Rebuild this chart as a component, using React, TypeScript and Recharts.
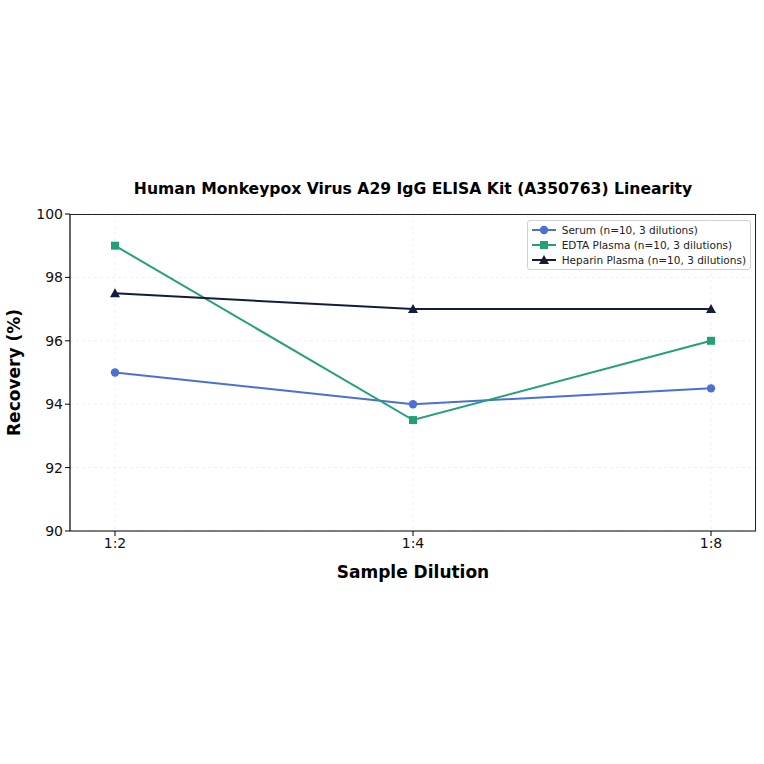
import React from 'react'
import { LineChart, Line, XAxis, YAxis, CartesianGrid } from 'recharts'

const dilutions = ['1:2', '1:4', '1:8']
const serum = [95, 94, 94.5]
const edtaPlasma = [99, 93.5, 96]
const heparinPlasma = [97.5, 97, 97]
const yTicks = [90, 92, 94, 96, 98, 100]

const seriesInfo = [
  { key: 'serum', name: 'Serum (n=10, 3 dilutions)', color: '#4a6fd6', shape: 'circle' },
  { key: 'edta', name: 'EDTA Plasma (n=10, 3 dilutions)', color: '#23a07a', shape: 'square' },
  { key: 'heparin', name: 'Heparin Plasma (n=10, 3 dilutions)', color: '#131d3b', shape: 'triangle' },
]

const data = dilutions.map((d, i) => ({
  dilution: d,
  serum: serum[i],
  edta: edtaPlasma[i],
  heparin: heparinPlasma[i],
}))

const FONT = '"DejaVu Sans", sans-serif'

function Marker({ shape, cx, cy, color }: { shape: string; cx: number; cy: number; color: string }) {
  if (shape === 'square') {
    return <rect x={cx - 4} y={cy - 4} width={8} height={8} fill={color} />
  }
  if (shape === 'triangle') {
    return <polygon points={`${cx},${cy - 5} ${cx + 5},${cy + 4} ${cx - 5},${cy + 4}`} fill={color} />
  }
  return <circle cx={cx} cy={cy} r={4.2} fill={color} />
}

function makeDot(shape: string, color: string) {
  return (props: any) => {
    const { cx, cy, index } = props
    if (cx == null || cy == null) return <g key={index} />
    return <Marker key={index} shape={shape} cx={cx} cy={cy} color={color} />
  }
}

function LegendBox() {
  return (
    <div
      style={{
        position: 'absolute',
        right: 13,
        top: 220,
        background: 'rgba(255,255,255,0.9)',
        border: '1px solid #d0d0d0',
        borderRadius: 3,
        padding: '1px 4px 2px 4px',
        fontFamily: FONT,
        fontSize: 10.5,
        color: '#222',
      }}
    >
      {seriesInfo.map((s) => (
        <div key={s.key} style={{ display: 'flex', alignItems: 'center', height: 15 }}>
          <svg width={24} height={12} style={{ marginRight: 6 }}>
            <line x1={0} y1={6} x2={24} y2={6} stroke={s.color} strokeWidth={2} />
            <Marker shape={s.shape} cx={12} cy={6} color={s.color} />
          </svg>
          <span>{s.name}</span>
        </div>
      ))}
    </div>
  )
}

export default function App() {
  return (
    <div style={{ position: 'absolute', left: 0, top: 0, width: 764, height: 764, background: '#fff' }}>
      <div
        style={{
          position: 'absolute',
          left: 70,
          width: 686,
          top: 180,
          textAlign: 'center',
          fontFamily: FONT,
          fontWeight: 'bold',
          fontSize: 15.6,
          color: '#000',
        }}
      >
        Human Monkeypox Virus A29 IgG ELISA Kit (A350763) Linearity
      </div>
      <LineChart
        width={764}
        height={764}
        data={data}
        margin={{ top: 214, right: 8, bottom: 173, left: 10 }}
        style={{ fontFamily: FONT }}
      >
        <CartesianGrid stroke="#ebebeb" strokeDasharray="3 3" strokeWidth={0.8} />
        <XAxis
          dataKey="dilution"
          padding={{ left: 45, right: 45 }}
          height={60}
          tick={{ fontSize: 14, fill: '#111' }}
          tickLine={{ stroke: '#000' }}
          tickSize={5}
          axisLine={{ stroke: '#000', strokeWidth: 1.2 }}
          label={{
            value: 'Sample Dilution',
            position: 'insideBottom',
            offset: 13,
            style: { fontSize: 17, fontWeight: 'bold', fill: '#000' },
          }}
        />
        <YAxis
          domain={[90, 100]}
          ticks={yTicks}
          width={60}
          tick={{ fontSize: 14, fill: '#111' }}
          tickLine={{ stroke: '#000' }}
          tickSize={5}
          axisLine={{ stroke: '#000', strokeWidth: 1.2 }}
          label={{
            value: 'Recovery (%)',
            angle: -90,
            position: 'insideLeft',
            offset: 4,
            style: { textAnchor: 'middle', fontSize: 17, fontWeight: 'bold', fill: '#000' },
          }}
        />
        {seriesInfo.map((s) => (
          <Line
            key={s.key}
            dataKey={s.key}
            name={s.name}
            stroke={s.color}
            strokeWidth={2}
            dot={makeDot(s.shape, s.color)}
            activeDot={false}
            isAnimationActive={false}
          />
        ))}
      </LineChart>
      {/* top and right spines of the plot frame */}
      <div
        style={{
          position: 'absolute',
          left: 70,
          top: 214,
          width: 686,
          height: 317,
          borderTop: '1.2px solid #222',
          borderRight: '1.2px solid #222',
          boxSizing: 'border-box',
          pointerEvents: 'none',
        }}
      />
      <LegendBox />
    </div>
  )
}
